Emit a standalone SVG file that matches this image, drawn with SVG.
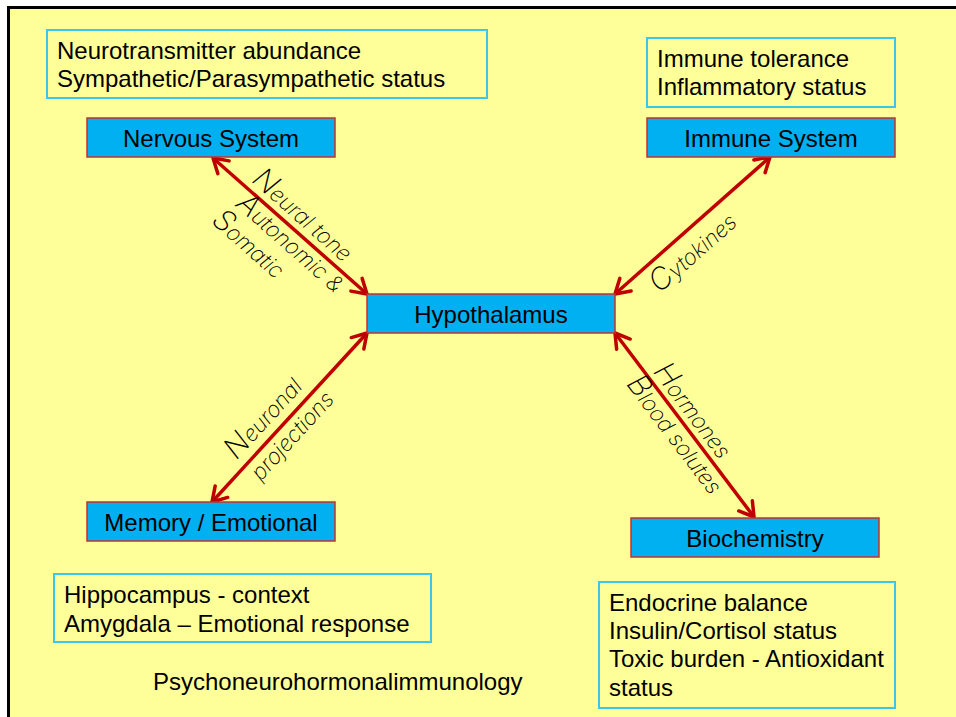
<svg xmlns="http://www.w3.org/2000/svg" width="956" height="717" viewBox="0 0 956 717">
<defs>
<style>
.node rect{fill:#00B0F0;stroke:#C8302A;stroke-width:1.5}
.info rect{fill:none;stroke:#3CC6EA;stroke-width:2}
.t{font-family:"Liberation Sans",Arial,sans-serif;font-size:24px;fill:#000}
.c{text-anchor:middle}
.lbl{font-family:Inter,"DejaVu Sans",sans-serif;font-weight:200;font-style:italic;font-size:22px;fill:#000;text-anchor:middle}
.cap{font-size:30px}
.conn line{stroke:#C00000;stroke-width:3.5;fill:none;marker-start:url(#ah);marker-end:url(#ah)}
</style>
<marker id="ah" viewBox="-6 -6 12 12" markerWidth="12" markerHeight="12" markerUnits="userSpaceOnUse" orient="auto-start-reverse" refX="0" refY="0" overflow="visible">
<path d="M-14,-8.5 L0,0 L-14,8.5" fill="none" stroke="#C00000" stroke-width="3.5" stroke-linecap="round" stroke-linejoin="round"/>
</marker>
</defs>
<rect x="0" y="0" width="956" height="717" fill="#FFFFFF"/>
<rect x="8" y="7" width="948" height="710" fill="#FFFF99"/>
<path d="M8.5,717 L8.5,7.5 L956,7.5" fill="none" stroke="#000" stroke-width="3"/>

<g id="connectors" class="conn">
<line x1="213" y1="158" x2="367" y2="294"/>
<line x1="770" y1="157" x2="615" y2="294"/>
<line x1="212" y1="502" x2="367" y2="333"/>
<line x1="615" y1="333" x2="754" y2="517"/>
</g>

<g id="labels">
<text class="lbl" transform="translate(297,222) rotate(41.4)"><tspan class="cap">N</tspan>eural tone</text>
<text class="lbl" transform="translate(285,250) rotate(41.4)"><tspan class="cap">A</tspan>utonomic &amp;</text>
<text class="lbl" transform="translate(243,251) rotate(41.4)"><tspan class="cap">S</tspan>omatic</text>
<text class="lbl" transform="translate(699,259) rotate(-41.5)"><tspan class="cap">C</tspan>ytokines</text>
<text class="lbl" transform="translate(270,424) rotate(-47.5)"><tspan class="cap">N</tspan>euronal</text>
<text class="lbl" transform="translate(298,441) rotate(-47.5)">projections</text>
<text class="lbl" transform="translate(686,416) rotate(52.9)"><tspan class="cap">H</tspan>ormones</text>
<text class="lbl" transform="translate(668,440) rotate(52.9)"><tspan class="cap">B</tspan>lood solutes</text>
</g>

<g id="info-nervous" class="info">
<rect x="47" y="30" width="440" height="68"/>
<text class="t" x="57" y="59">Neurotransmitter abundance</text>
<text class="t" x="57" y="87">Sympathetic/Parasympathetic status</text>
</g>
<g id="info-immune" class="info">
<rect x="647" y="38" width="248" height="69"/>
<text class="t" x="657" y="67">Immune tolerance</text>
<text class="t" x="657" y="95">Inflammatory status</text>
</g>
<g id="info-memory" class="info">
<rect x="54" y="574" width="377" height="68"/>
<text class="t" x="64" y="603">Hippocampus - context</text>
<text class="t" x="64" y="632">Amygdala – Emotional response</text>
</g>
<g id="info-biochem" class="info">
<rect x="599" y="582" width="296" height="126"/>
<text class="t" x="609" y="611">Endocrine balance</text>
<text class="t" x="609" y="639">Insulin/Cortisol status</text>
<text class="t" x="609" y="667">Toxic burden - Antioxidant</text>
<text class="t" x="609" y="696">status</text>
</g>

<g id="nervous" class="node">
<rect x="87" y="118" width="248" height="39"/>
<text class="t c" x="211" y="147">Nervous System</text>
</g>
<g id="immune" class="node">
<rect x="647" y="118" width="248" height="39"/>
<text class="t c" x="771" y="147">Immune System</text>
</g>
<g id="hypothalamus" class="node">
<rect x="367" y="294" width="248" height="39"/>
<text class="t c" x="491" y="323">Hypothalamus</text>
</g>
<g id="memory" class="node">
<rect x="87" y="502" width="248" height="39"/>
<text class="t c" x="211" y="531">Memory / Emotional</text>
</g>
<g id="biochemistry" class="node">
<rect x="631" y="518" width="248" height="39"/>
<text class="t c" x="755" y="547">Biochemistry</text>
</g>

<text class="t" x="153" y="690">Psychoneurohormonalimmunology</text>
</svg>
